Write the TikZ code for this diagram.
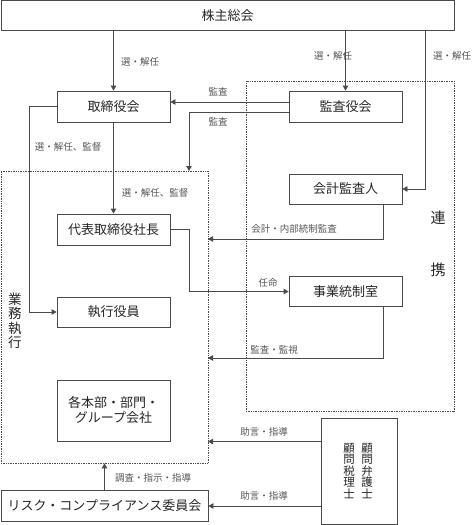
\documentclass[tikz,border=0pt]{standalone}
\usepackage{fontspec}
\setmainfont{Noto Sans CJK JP}
\usetikzlibrary{arrows.meta}
\definecolor{ln}{HTML}{4A4A4A}
\definecolor{lb}{HTML}{555555}
\tikzset{
  box/.style={draw=ln, line width=0.8pt, fill=white, inner sep=0pt, font=\fontsize{13pt}{15pt}\selectfont, text=black!85},
  region/.style={draw=ln, densely dotted, line width=0.7pt, inner sep=0pt},
  arr/.style={draw=ln, line width=0.8pt, -{Triangle[length=5pt,width=5.5pt]}},
  ln/.style={draw=ln, line width=0.8pt},
  lab/.style={font=\fontsize{9.5pt}{11pt}\selectfont, text=lb, inner sep=0pt},
  vtext/.style={align=center, inner sep=0pt, text=black!85}
}
\begin{document}
\begin{tikzpicture}[x=1pt,y=-1pt]
\useasboundingbox (0,0) rectangle (472,525);
% regions
\node[region, minimum width=208pt, minimum height=330pt] (renkei) at (350,246) {};
\node[region, minimum width=207pt, minimum height=292pt] (exec) at (104.5,317) {};
% boxes
\node[box, minimum width=453pt, minimum height=29.5pt] (top) at (227.5,15.25) {株主総会};
\node[box, minimum width=113pt, minimum height=31pt] (tori) at (113.5,106.5) {取締役会};
\node[box, minimum width=113pt, minimum height=31pt] (kansa) at (345.5,106.5) {監査役会};
\node[box, minimum width=113pt, minimum height=30pt] (kaikei) at (345.5,189) {会計監査人};
\node[box, minimum width=113pt, minimum height=31pt] (daihyo) at (113.5,229.5) {代表取締役社長};
\node[box, minimum width=113pt, minimum height=30pt] (jigyo) at (345.5,291.5) {事業統制室};
\node[box, minimum width=113pt, minimum height=30pt] (shikko) at (113.5,312) {執行役員};
\node[box, minimum width=113pt, minimum height=61pt, align=center] (honbu) at (113.5,410.5) {各本部・部門・\\グループ会社};
\node[box, minimum width=76pt, minimum height=106pt] (komon) at (359,471) {};
\node[box, minimum width=207pt, minimum height=31pt] (risk) at (104.5,506) {リスク・コンプライアンス委員会};
% vertical texts
\node[vtext, font=\fontsize{11.5pt}{11.5pt}\selectfont] (bengo) at (367,471) {顧\\問\\弁\\護\\士};
\node[vtext, font=\fontsize{11.5pt}{11.5pt}\selectfont] (zeiri) at (349,471) {顧\\問\\税\\理\\士};
\node[vtext, font=\fontsize{13.5pt}{14.5pt}\selectfont] (gyomu) at (15,321) {業\\務\\執\\行};
\node[vtext, font=\fontsize{15pt}{15pt}\selectfont] (ren) at (438,218) {連};
\node[vtext, font=\fontsize{15pt}{15pt}\selectfont] (kei) at (438,270) {携};
% helper coordinates
\coordinate (kx) at (425,30);
\coordinate (ml) at (29,0);
\coordinate (m1) at (189,171);
\coordinate (e1) at (208,239);
\coordinate (e2) at (208,358);
\coordinate (e3) at (208,441.5);
% connectors
\draw[arr] (top.south -| tori.north) -- (tori.north);
\draw[arr] (top.south -| kansa.north) -- (kansa.north);
\draw[arr] (kx) |- (kaikei.east);
\draw[arr] ([yshift=4.5pt]kansa.west) -- ([yshift=4.5pt]tori.east);
\draw[arr] ([yshift=-5.5pt]kansa.west) -| (m1);
\draw[arr] (tori.west) -- (tori.west -| ml) |- (shikko.west);
\draw[arr] (tori.south) -- (daihyo.north);
\draw[arr] (daihyo.east) -- (daihyo.east -| m1) |- (jigyo.west);
\draw[arr] ([xshift=37.5pt]kaikei.south) |- (e1);
\draw[arr] ([xshift=37.5pt]jigyo.south) |- (e2);
\draw[arr] (komon.west |- e3) -- (e3);
\draw[arr] (komon.west |- risk.east) -- (risk.east);
\draw[arr] (risk.north) -- (risk.north |- exec.south);
% labels
\node[lab] (l1) at (140,62) {選・解任};
\node[lab] (l2) at (333,56) {選・解任};
\node[lab] (l3) at (452,56) {選・解任};
\node[lab] (l4) at (218,92) {監査};
\node[lab] (l5) at (218,122) {監査};
\node[lab] (l6) at (68,147) {選・解任、監督};
\node[lab] (l7) at (155,193) {選・解任、監督};
\node[lab] (l8) at (294,229) {会計・内部統制監査};
\node[lab] (l9) at (268,283) {任命};
\node[lab] (l10) at (274,350) {監査・監視};
\node[lab] (l11) at (264,432) {助言・指導};
\node[lab] (l12) at (264,496) {助言・指導};
\node[lab] (l13) at (153,478) {調査・指示・指導};
\end{tikzpicture}
\end{document}
